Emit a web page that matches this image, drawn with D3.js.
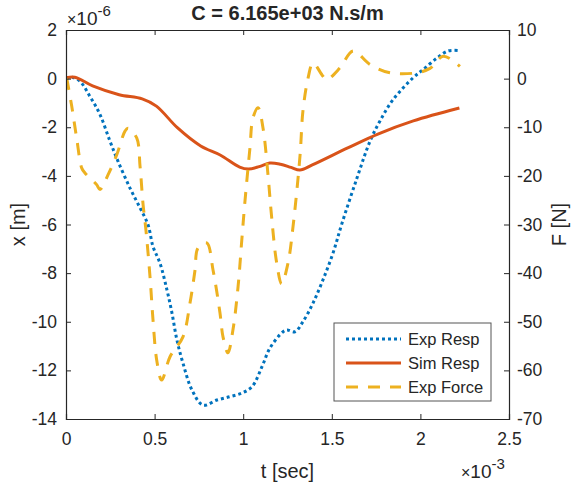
<!DOCTYPE html>
<html>
<head>
<meta charset="utf-8">
<script src="https://cdn.jsdelivr.net/npm/d3@7"></script>
<style>
  body { margin: 0; background: #fff; }
  text { font-family: "Liberation Sans", Arial, sans-serif; fill: #262626; }
</style>
</head>
<body>
<div id="chart"></div>
<script>
// time in ms (axis shows x10^-3 sec)
var respT = [0, 0.038, 0.079, 0.135, 0.192, 0.248, 0.293, 0.361, 0.418, 0.463, 0.491, 0.530, 0.570, 0.598, 0.626, 0.660, 0.711, 0.773, 0.852, 0.926, 0.993, 1.050, 1.106, 1.151, 1.225, 1.247, 1.292, 1.337, 1.394, 1.450, 1.507, 1.558, 1.642, 1.716, 1.772, 1.845, 1.958, 2.015, 2.094, 2.156, 2.223];
// exp response, x10^-6 m
var expResp = [0, 0.05, -0.11, -0.73, -1.48, -2.57, -3.39, -4.50, -5.32, -6.01, -6.91, -7.58, -8.70, -9.64, -10.75, -11.70, -12.81, -13.43, -13.22, -13.08, -12.93, -12.67, -11.85, -11.08, -10.41, -10.34, -10.41, -10.00, -9.23, -8.28, -7.17, -5.94, -4.09, -2.57, -1.74, -0.87, 0.03, 0.37, 0.85, 1.14, 1.15];

var simT = [0, 0.05, 0.15, 0.30, 0.43, 0.51, 0.63, 0.76, 0.87, 0.98, 1.03, 1.09, 1.15, 1.21, 1.27, 1.32, 1.39, 1.59, 1.76, 1.96, 2.22];
var simResp = [0.03, 0.06, -0.30, -0.66, -0.83, -1.13, -2.03, -2.77, -3.14, -3.64, -3.72, -3.62, -3.47, -3.52, -3.65, -3.76, -3.55, -2.85, -2.28, -1.74, -1.21];

var forceT = [0.004, 0.032, 0.060, 0.089, 0.107, 0.173, 0.192, 0.237, 0.286, 0.333, 0.350, 0.399, 0.418, 0.435, 0.451, 0.474, 0.491, 0.512, 0.540, 0.587, 0.660, 0.700, 0.728, 0.745, 0.794, 0.830, 0.869, 0.886, 0.914, 0.942, 0.971, 0.992, 1.010, 1.038, 1.055, 1.084, 1.112, 1.140, 1.161, 1.189, 1.217, 1.253, 1.281, 1.321, 1.337, 1.366, 1.394, 1.450, 1.471, 1.546, 1.620, 1.716, 1.828, 1.979, 2.054, 2.130, 2.223];
// exp force, N
var expForce = [0.1, -5.6, -12.2, -18.4, -19.4, -21.8, -22.8, -19.8, -15.7, -10.8, -10.2, -12.2, -18.1, -25.9, -31.1, -40.7, -49.6, -57.9, -62.0, -57.2, -53.1, -46.1, -39.4, -34.8, -33.8, -39.4, -48.2, -53.1, -56.4, -51.7, -42.8, -33.2, -25.2, -14.3, -8.1, -6.0, -10.2, -19.8, -28.7, -37.9, -42.2, -37.9, -30.5, -15.7, -6.7, 0.1, 3.2, 0.5, -0.2, 2.2, 5.7, 2.9, 1.2, 1.2, 2.1, 4.6, 2.5];

var xTicks = [0, 0.5, 1, 1.5, 2, 2.5];
var yLeftTicks = [-14, -12, -10, -8, -6, -4, -2, 0, 2];
var yRightTicks = [-70, -60, -50, -40, -30, -20, -10, 0, 10];
var legendNames = ["Exp Resp", "Sim Resp", "Exp Force"];

var W = 574, H = 491;
var margin = {top: 30, right: 65, bottom: 72, left: 66},
    width = W - margin.left - margin.right,
    height = H - margin.top - margin.bottom;

var blue = "#0072BD", orange = "#D95319", yellow = "#EDB120", ink = "#262626";

var svg = d3.select("#chart").append("svg")
    .attr("width", W)
    .attr("height", H);

var g = svg.append("g")
    .attr("transform", "translate(" + margin.left + "," + margin.top + ")");

var x = d3.scaleLinear().domain([0, 2.5]).range([0, width]),
    yL = d3.scaleLinear().domain([-14, 2]).range([height, 0]),
    yR = d3.scaleLinear().domain([-70, 10]).range([height, 0]);

g.append("clipPath").attr("id", "clip")
    .append("rect").attr("width", width).attr("height", height);

var lineL = d3.line()
    .x(function(d) { return x(d[0]); })
    .y(function(d) { return yL(d[1]); })
    .curve(d3.curveCatmullRom.alpha(0.5));
var lineR = d3.line()
    .x(function(d) { return x(d[0]); })
    .y(function(d) { return yR(d[1]); })
    .curve(d3.curveCatmullRom.alpha(0.5));

var plot = g.append("g").attr("clip-path", "url(#clip)");

plot.append("path")
    .datum(d3.zip(respT, expResp))
    .attr("d", lineL)
    .attr("fill", "none").attr("stroke", blue)
    .attr("stroke-width", 3).attr("stroke-dasharray", "3,3");

plot.append("path")
    .datum(d3.zip(simT, simResp))
    .attr("d", lineL)
    .attr("fill", "none").attr("stroke", orange)
    .attr("stroke-width", 3);

plot.append("path")
    .datum(d3.zip(forceT, expForce))
    .attr("d", lineR)
    .attr("fill", "none").attr("stroke", yellow)
    .attr("stroke-width", 3).attr("stroke-dasharray", "12,10");

// axes, ticks inward like matlab
var fmt = function(d) { return d3.format("")(d).replace("\u2212", "-"); };

var xAxis = g.append("g")
    .attr("transform", "translate(0," + height + ")")
    .call(d3.axisBottom(x).tickValues(xTicks).tickSize(-5).tickPadding(14).tickFormat(fmt));
var xTop = g.append("g")
    .call(d3.axisTop(x).tickValues(xTicks).tickSize(-5).tickFormat(""));
var yAxisL = g.append("g")
    .call(d3.axisLeft(yL).tickValues(yLeftTicks).tickSize(-5).tickPadding(9).tickFormat(fmt));
var yAxisR = g.append("g")
    .attr("transform", "translate(" + width + ",0)")
    .call(d3.axisRight(yR).tickValues(yRightTicks).tickSize(-5).tickPadding(8).tickFormat(fmt));

[xAxis, xTop, yAxisL, yAxisR].forEach(function(a) {
    a.select(".domain").attr("stroke", ink).attr("stroke-width", 1.2);
    a.selectAll(".tick line").attr("stroke", ink);
    a.selectAll(".tick text").attr("fill", ink)
        .style("font-size", "17.5px")
        .style("font-family", "'Liberation Sans', Arial, sans-serif");
});

// title and labels
svg.append("text")
    .attr("x", margin.left + width / 2).attr("y", 20)
    .attr("text-anchor", "middle")
    .style("font-size", "20px").style("font-weight", "bold")
    .text("C = 6.165e+03 N.s/m");

svg.append("text")
    .attr("x", margin.left + width / 2).attr("y", 478)
    .attr("text-anchor", "middle")
    .style("font-size", "20px")
    .text("t [sec]");

svg.append("text")
    .attr("transform", "translate(25," + (margin.top + height / 2) + ") rotate(-90)")
    .attr("text-anchor", "middle")
    .style("font-size", "20px")
    .text("x [m]");

svg.append("text")
    .attr("transform", "translate(566," + (margin.top + height / 2) + ") rotate(-90)")
    .attr("text-anchor", "middle")
    .style("font-size", "20px")
    .text("F [N]");

// exponent labels
function expLabel(px, py, pow) {
    var t = svg.append("text").attr("x", px).attr("y", py).style("font-size", "19px");
    t.append("tspan").text("\u00d7").style("font-size", "16px");
    t.append("tspan").text("10");
    t.append("tspan").attr("dy", -9).style("font-size", "15px").text(pow);
}
expLabel(67, 25, "-6");
expLabel(461, 478, "-3");

// legend
var legItems = [
    {name: legendNames[0], color: blue, dash: "3,3"},
    {name: legendNames[1], color: orange, dash: null},
    {name: legendNames[2], color: yellow, dash: "12,10"}
];
var leg = svg.append("g").attr("transform", "translate(334,323)");
leg.append("rect")
    .attr("width", 157).attr("height", 78)
    .attr("fill", "#fff").attr("stroke", "#555").attr("stroke-width", 1);
leg.selectAll(".item")
    .data(legItems)
    .enter().append("g")
    .attr("class", "item")
    .attr("transform", function(d, i) { return "translate(0," + (16 + i * 24) + ")"; })
    .each(function(d) {
        var s = d3.select(this);
        s.append("line")
            .attr("x1", 12).attr("x2", 67)
            .attr("stroke", d.color).attr("stroke-width", 3)
            .attr("stroke-dasharray", d.dash);
        s.append("text")
            .attr("x", 74).attr("dy", "0.35em")
            .style("font-size", "16.5px")
            .text(d.name);
    });
</script>
</body>
</html>
